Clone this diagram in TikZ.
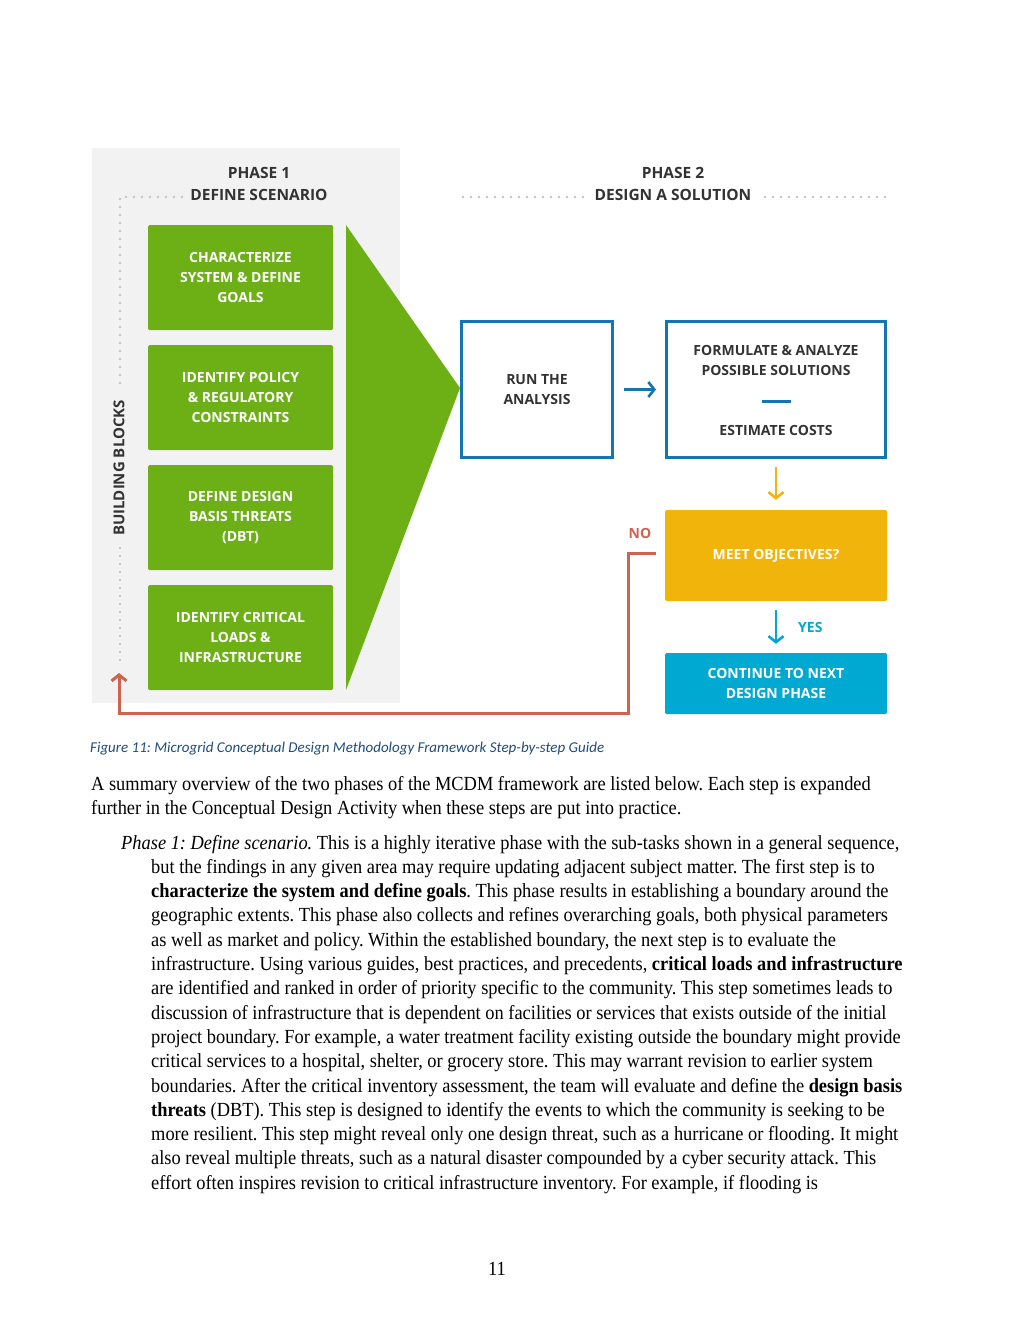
\documentclass[tikz,border=0pt]{standalone}
\usepackage{fontspec}
\setmainfont{Liberation Serif}[FakeStretch=0.92]
\newfontfamily\osans{Open Sans}
\newfontfamily\calib{Carlito}
\usetikzlibrary{arrows.meta}
\frenchspacing
\definecolor{bggray}{RGB}{242,242,242}
\definecolor{grn}{RGB}{108,176,22}
\definecolor{bluebd}{RGB}{20,117,176}
\definecolor{orng}{RGB}{240,180,10}
\definecolor{cyn}{RGB}{0,169,210}
\definecolor{redl}{RGB}{207,99,80}
\definecolor{darktxt}{RGB}{51,51,51}
\definecolor{dotgray}{RGB}{195,195,195}
\definecolor{capblue}{RGB}{31,78,121}
\tikzset{
  dfont/.style={font=\osans\bfseries\fontsize{14}{20}\selectfont},
  hfont/.style={font=\osans\bfseries\fontsize{15.5}{22}\selectfont},
  greenbox/.style={fill=grn, rounded corners=1.5pt, minimum width=185pt, minimum height=105pt, inner sep=0pt, text=white, align=center, dfont},
  bluebox/.style={draw=bluebd, line width=3pt, fill=white, inner sep=0pt, align=center, text=darktxt, dfont},
  fillbox/.style={rounded corners=1.5pt, minimum width=222pt, inner sep=0pt, text=white, align=center, dfont},
  lbl/.style={inner sep=0pt, align=center, dfont},
  dots/.style={dotgray, line width=2.8pt, line cap=round, dash pattern=on 0pt off 8pt},
  arr/.style={line width=2.6pt, -{Straight Barb[length=6pt,width=15pt]}},
  body/.style={anchor=base west, inner sep=0pt, font=\fontsize{20}{24}\selectfont},
}
\begin{document}
\begin{tikzpicture}[x=1pt,y=-1pt]
\useasboundingbox (0,0) rectangle (1024,1325);
\fill[white] (0,0) rectangle (1024,1325);
% gray panel
\fill[bggray] (92,148) rectangle (400,703);
% headers
\node[hfont, text=darktxt, align=center, inner sep=0pt] (ph1) at (259,184) {PHASE 1\\DEFINE SCENARIO};
\node[hfont, text=darktxt, align=center, inner sep=0pt] (ph2) at (673,184) {PHASE 2\\DESIGN A SOLUTION};
% dotted guides
\draw[dots] (182,197) -- (120,197) -- (120,388);
\draw[dots] (120,548) -- (120,660);
\draw[dots] (463,197) -- (583,197);
\draw[dots] (765,197) -- (885,197);
\node[lbl, text=darktxt, rotate=90, font=\osans\bfseries\fontsize{15}{20}\selectfont] (bb) at (119,468) {BUILDING BLOCKS};
% green boxes
\node[greenbox] (g1) at (240.5,277.5) {CHARACTERIZE\\SYSTEM \& DEFINE\\GOALS};
\node[greenbox] (g2) at (240.5,397.5) {IDENTIFY POLICY\\\& REGULATORY\\CONSTRAINTS};
\node[greenbox] (g3) at (240.5,517.5) {DEFINE DESIGN\\BASIS THREATS\\(DBT)};
\node[greenbox] (g4) at (240.5,637.5) {IDENTIFY CRITICAL\\LOADS \&\\INFRASTRUCTURE};
% funnel triangle
\fill[grn] (346,225) -- (460,388) -- (346,690) -- cycle;
% phase 2 boxes
\node[bluebox, minimum width=151pt, minimum height=136pt] (run) at (537,389.5) {RUN THE\\ANALYSIS};
\node[bluebox, minimum width=219pt, minimum height=136pt] (form) at (776,389.5) {};
\node[lbl, text=darktxt] (formt) at (776,360) {FORMULATE \& ANALYZE\\POSSIBLE SOLUTIONS};
\node[lbl, text=darktxt] (estc) at (776,430) {ESTIMATE COSTS};
\draw[bluebd, line width=3pt] (762,401) -- (791,401);
\node[fillbox, fill=orng, minimum height=91pt] (meet) at (776,555.5) {\raisebox{-3pt}{MEET OBJECTIVES?}};
\node[fillbox, fill=cyn, minimum height=61pt] (cont) at (776,683.5) {CONTINUE TO NEXT\\DESIGN PHASE};
% connectors
\draw[arr, bluebd, shorten <=10pt, shorten >=9pt] (run.east) -- (form.west);
\draw[arr, orng, shorten <=8pt, shorten >=10pt] (form.south) -- (meet.north);
\draw[arr, cyn, shorten <=9pt, shorten >=9pt] (meet.south) -- (cont.north);
\node[lbl, text=cyn, anchor=west] (yes) at (798,627) {YES};
\node[lbl, text=redl] (no) at (640,533) {NO};
\coordinate (nostart) at (656,553);
\coordinate (loopend) at (119,673);
\draw[arr, redl, line width=3pt] (nostart) -- (628,553) -- (628,713) -- (119,713) -- (loopend);
% caption
\node[anchor=base west, inner sep=0pt, text=capblue, font=\calib\itshape\fontsize{15}{18}\selectfont] (cap) at (90,752) {Figure 11: Microgrid Conceptual Design Methodology Framework Step-by-step Guide};
% body text
\node[body] (b1) at (91,790) {A summary overview of the two phases of the MCDM framework are listed below. Each step is expanded};
\node[body] (b2) at (91,814) {further in the Conceptual Design Activity when these steps are put into practice.};
\node[body] (p1) at (121,849) {\textit{Phase 1: Define scenario.} This is a highly iterative phase with the sub-tasks shown in a general sequence,};
\node[body] (p2) at (151,873.3) {but the findings in any given area may require updating adjacent subject matter. The first step is to};
\node[body] (p3) at (151,897.6) {\textbf{characterize the system and define goals}. This phase results in establishing a boundary around the};
\node[body] (p4) at (151,921.9) {geographic extents. This phase also collects and refines overarching goals, both physical parameters};
\node[body] (p5) at (151,946.2) {as well as market and policy. Within the established boundary, the next step is to evaluate the};
\node[body] (p6) at (151,970.5) {infrastructure. Using various guides, best practices, and precedents, \textbf{critical loads and infrastructure}};
\node[body] (p7) at (151,994.8) {are identified and ranked in order of priority specific to the community. This step sometimes leads to};
\node[body] (p8) at (151,1019.1) {discussion of infrastructure that is dependent on facilities or services that exists outside of the initial};
\node[body] (p9) at (151,1043.4) {project boundary. For example, a water treatment facility existing outside the boundary might provide};
\node[body] (p10) at (151,1067.7) {critical services to a hospital, shelter, or grocery store. This may warrant revision to earlier system};
\node[body] (p11) at (151,1092) {boundaries. After the critical inventory assessment, the team will evaluate and define the \textbf{design basis}};
\node[body] (p12) at (151,1116.3) {\textbf{threats} (DBT). This step is designed to identify the events to which the community is seeking to be};
\node[body] (p13) at (151,1140.6) {more resilient. This step might reveal only one design threat, such as a hurricane or flooding. It might};
\node[body] (p14) at (151,1164.9) {also reveal multiple threats, such as a natural disaster compounded by a cyber security attack. This};
\node[body] (p15) at (151,1189.2) {effort often inspires revision to critical infrastructure inventory. For example, if flooding is};
\node[anchor=base, inner sep=0pt, font=\fontsize{20}{24}\selectfont] (pg) at (497,1275) {11};
\end{tikzpicture}
\end{document}
